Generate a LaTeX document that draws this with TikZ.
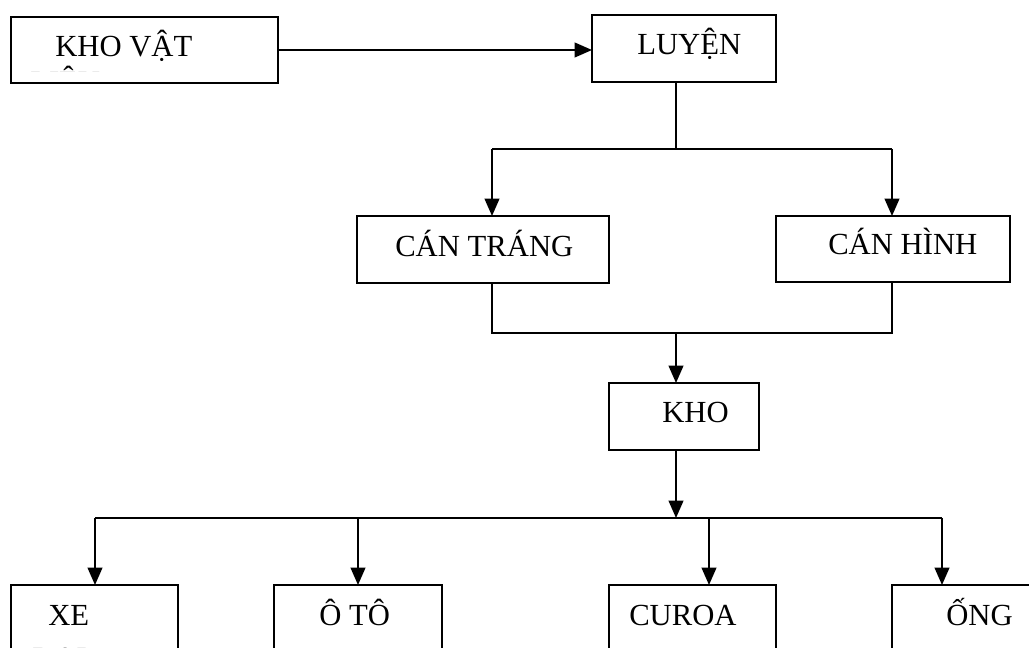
\documentclass[tikz,border=0pt]{standalone}
\usepackage{fontspec}
\setmainfont{Liberation Serif}
\usetikzlibrary{arrows.meta}
\begin{document}
\begin{tikzpicture}[x=0.75pt,y=-0.75pt,
  box/.style={draw,line width=1.7pt,inner sep=0pt,outer sep=0pt,minimum width={0.75pt*#1}},
  txt/.style={anchor=base west,inner sep=0pt,font=\fontsize{23}{27}\selectfont},
  conn/.style={line width=1.5pt},
  arr/.style={conn,-{Triangle[length=13pt,width=11pt]}}]
\clip (0,0) rectangle (1029,648);
\fill[white] (0,0) rectangle (1029,648);
% boxes
\node[box=267,minimum height={0.75pt*66}] (kv) at (144.5,50) {};
\node[box=184,minimum height={0.75pt*67}] (lu) at (684,48.5) {};
\node[box=252,minimum height={0.75pt*67}] (ct) at (483,249.5) {};
\node[box=234,minimum height={0.75pt*66}] (ch) at (893,249) {};
\node[box=150,minimum height={0.75pt*67}] (kho) at (684,416.5) {};
\node[box=167,minimum height={0.75pt*100}] (xe) at (94.5,635) {};
\node[box=168,minimum height={0.75pt*100}] (oto) at (358,635) {};
\node[box=167,minimum height={0.75pt*100}] (cu) at (692.5,635) {};
\node[box=160,minimum height={0.75pt*100}] (ong) at (972,635) {};
% texts
\node[txt] (tkv) at (55,57) {KHO VẬT};
\begin{scope}
\clip (12,18) rectangle (277,71.5);
\node[txt] (tkv2) at (30,93) {LIỆU};
\end{scope}
\node[txt] (tlu) at (637,55) {LUYỆN};
\node[txt] (tct) at (395,257) {CÁN TRÁNG};
\node[txt] (tch) at (828,255) {CÁN HÌNH};
\node[txt] (tkho) at (662,423) {KHO};
\node[txt] (txe) at (48,625) {XE};
\node[txt] (txe2) at (32,668) {ĐẠP};
\node[txt] (toto) at (319,625) {Ô TÔ};
\node[txt] (tcu) at (629,625) {CUROA};
\node[txt] (tong) at (946,625) {ỐNG};
% junction coordinates
\coordinate (j1) at (676,149);
\coordinate (a1) at (492,149);
\coordinate (a2) at (892,149);
\coordinate (b1) at (492,333);
\coordinate (b2) at (892,333);
\coordinate (b0) at (676,333);
\coordinate (c0) at (676,518);
\coordinate (d1) at (95,518);
\coordinate (d2) at (358,518);
\coordinate (d3) at (709,518);
\coordinate (d4) at (942,518);
% connectors
\draw[arr] (kv.east) -- (kv.east -| lu.west);
\draw[conn] (lu.south -| j1) -- (j1);
\draw[conn] (a1) -- (a2);
\draw[arr] (a1) -- (a1 |- ct.north);
\draw[arr] (a2) -- (a2 |- ch.north);
\draw[conn] (b1 |- ct.south) -- (b1) -- (b2) -- (b2 |- ch.south);
\draw[arr] (b0) -- (b0 |- kho.north);
\draw[arr] (kho.south -| c0) -- (c0);
\draw[conn] (d1) -- (d4);
\draw[arr] (d1) -- (d1 |- xe.north);
\draw[arr] (d2) -- (d2 |- oto.north);
\draw[arr] (d3) -- (d3 |- cu.north);
\draw[arr] (d4) -- (d4 |- ong.north);
\end{tikzpicture}
\end{document}
